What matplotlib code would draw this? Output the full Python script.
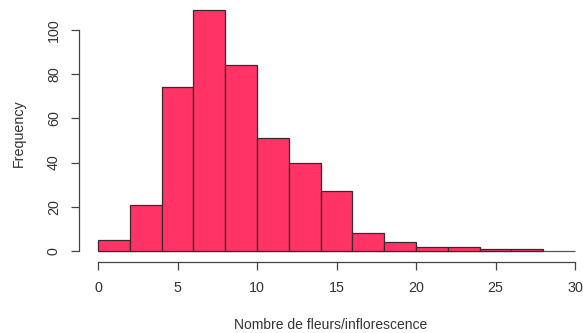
import matplotlib
matplotlib.use("Agg")
import matplotlib.pyplot as plt
import numpy as np

plt.rcParams['font.family'] = ['Liberation Sans', 'DejaVu Sans']

# histogram of flower counts per inflorescence (bin width 2)
bin_edges = [0, 2, 4, 6, 8, 10, 12, 14, 16, 18, 20, 22, 24, 26, 28]
counts = [5, 21, 74, 109, 84, 51, 40, 27, 8, 4, 2, 2, 1, 1]
x_ticks = [0, 5, 10, 15, 20, 25, 30]
y_ticks = [0, 20, 40, 60, 80, 100]

W, H = 583, 333
fig = plt.figure(figsize=(W / 100, H / 100), dpi=100)
ax = fig.add_axes([79 / W, 1 - 262 / H, (W - 79) / W, (262 - 5) / H])

left = np.array(bin_edges[:-1])
widths = np.diff(bin_edges)
ax.bar(left, counts, width=widths, align='edge', color='#FF3366',
       edgecolor='#3a2a2e', linewidth=0.9, zorder=2)
ax.hlines(0, bin_edges[0], x_ticks[-1], color='#555555', linewidth=0.9, zorder=1)

ax.set_xlim(-1.2, 30.5)
ax.set_ylim(-5, 111.3)

for s in ['top', 'right']:
    ax.spines[s].set_visible(False)
ax.spines['left'].set_bounds(y_ticks[0], y_ticks[-1])
ax.spines['bottom'].set_bounds(x_ticks[0], x_ticks[-1])
for s in ['left', 'bottom']:
    ax.spines[s].set_color('#444444')
    ax.spines[s].set_linewidth(0.9)

ax.set_xticks(x_ticks)
ax.set_yticks(y_ticks)
ax.set_yticklabels([str(v) for v in y_ticks], rotation=90, va='center')
ax.tick_params(axis='both', direction='out', length=6, width=0.9,
               colors='#444444', labelsize=10.3, labelcolor='#333333')
ax.tick_params(axis='x', pad=8)
ax.tick_params(axis='y', pad=7)

ax.set_xlabel('Nombre de fleurs/inflorescence', fontsize=10, color='#333333', labelpad=16)
ax.set_ylabel('Frequency', fontsize=10.3, color='#333333', labelpad=15)

fig.savefig('out.png', dpi=100)
